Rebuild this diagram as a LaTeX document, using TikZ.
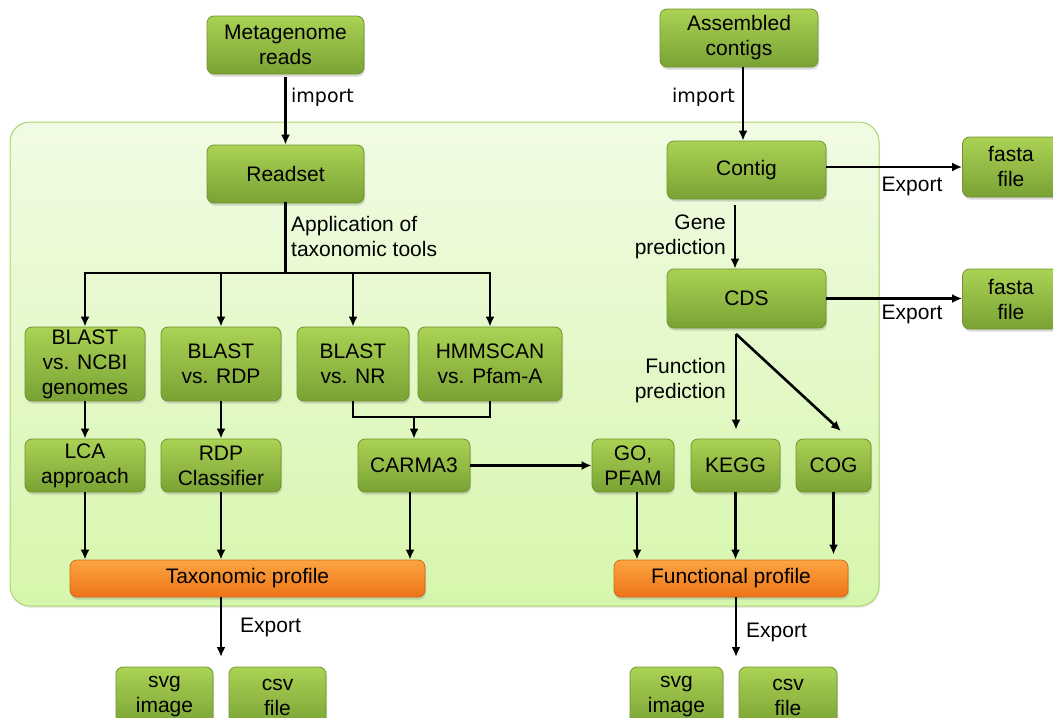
\documentclass[tikz,border=0pt]{standalone}
\usepackage{fontspec}
\setmainfont{Liberation Sans}
\newfontfamily\lblfont{DejaVu Sans}
\usetikzlibrary{arrows.meta,shadows,calc}

\definecolor{gtop}{RGB}{170,210,84}
\definecolor{gbot}{RGB}{122,162,52}
\definecolor{gline}{RGB}{112,148,48}
\definecolor{otop}{RGB}{252,164,64}
\definecolor{obot}{RGB}{236,116,24}
\definecolor{oline}{RGB}{205,105,30}
\definecolor{ptop}{RGB}{241,251,228}
\definecolor{pbot}{RGB}{214,246,172}
\definecolor{pline}{RGB}{172,212,112}

\tikzset{
 box/.style={draw=gline, line width=0.8pt, rounded corners=7pt, top color=gtop, bottom color=gbot,
   align=center, inner sep=0pt, font=\fontsize{21}{25}\selectfont,
   drop shadow={shadow xshift=1pt, shadow yshift=-2.5pt, opacity=0.3}},
 obox/.style={box, draw=oline, top color=otop, bottom color=obot},
 arr/.style={line width=2.6pt, -{Latex[length=10pt,width=9pt]}},
 ln/.style={line width=2.6pt, line cap=rect},
 lbl/.style={font=\fontsize{21}{25}\selectfont, inner sep=0pt},
}

\begin{document}
\begin{tikzpicture}[x=1pt,y=-1pt]
\useasboundingbox (0,0) rectangle (1053,718);
\clip (0,0) rectangle (1053,718);

% panel
\draw[draw=pline, line width=1pt, rounded corners=20pt, top color=ptop, bottom color=pbot,
  drop shadow={shadow xshift=1pt, shadow yshift=-2pt, opacity=0.15}] (10,122) rectangle (879,606);

% nodes
\node[box, minimum width=157pt, minimum height=58pt] (meta) at (285.5,45) {Metagenome\\reads};
\node[box, minimum width=157pt, minimum height=58pt] (readset) at (285.5,174) {Readset};
\node[box, minimum width=158pt, minimum height=58pt] (asm) at (739,38) {Assembled\\contigs};
\node[box, minimum width=159pt, minimum height=58pt] (contig) at (746.5,170) {Contig};
\node[box, minimum width=159pt, minimum height=59pt] (cds) at (746.5,298.5) {CDS};
\node[box, minimum width=97pt, minimum height=60pt] (fasta1) at (1011,167) {fasta\\file};
\node[box, minimum width=97pt, minimum height=60pt] (fasta2) at (1011,299) {fasta\\file};

\node[box, minimum width=120pt, minimum height=74pt] (ncbi) at (85,364) {BLAST\\vs. NCBI\\genomes};
\node[box, minimum width=120pt, minimum height=74pt] (rdp) at (221,364) {BLAST\\vs. RDP};
\node[box, minimum width=112pt, minimum height=74pt] (nr) at (353,364) {BLAST\\vs. NR};
\node[box, minimum width=144pt, minimum height=74pt] (hmm) at (490,364) {HMMSCAN\\vs. Pfam-A};

\node[box, minimum width=120pt, minimum height=53pt] (lca) at (85,465.5) {LCA\\approach};
\node[box, minimum width=120pt, minimum height=53pt] (rdpc) at (221,465.5) {RDP\\Classifier};
\node[box, minimum width=112pt, minimum height=53pt] (carma) at (414,465.5) {CARMA3};
\node[box, minimum width=82pt, minimum height=53pt] (gopfam) at (633,465.5) {GO,\\PFAM};
\node[box, minimum width=89pt, minimum height=53pt] (kegg) at (735.5,465.5) {KEGG};
\node[box, minimum width=75pt, minimum height=53pt] (cog) at (833.5,465.5) {COG};

\node[obox, minimum width=355pt, minimum height=37pt] (tax) at (247.5,578.5) {Taxonomic profile};
\node[obox, minimum width=234pt, minimum height=37pt] (func) at (731,578.5) {Functional profile};

\node[box, minimum width=97pt, minimum height=60pt] (svg1) at (164.5,697) {svg\\image};
\node[box, minimum width=97pt, minimum height=60pt] (csv1) at (277.5,697) {csv\\file};
\node[box, minimum width=93pt, minimum height=60pt] (svg2) at (676.5,697) {svg\\image};
\node[box, minimum width=98pt, minimum height=60pt] (csv2) at (788,697) {csv\\file};

% labels
\node[lbl, anchor=west] (imp1) at (291,97) {\lblfont\fontsize{19}{23}\selectfont import};
\node[lbl, anchor=east] (imp2) at (735,97) {\lblfont\fontsize{19}{23}\selectfont import};
\node[lbl, anchor=west, align=left] (appl) at (291,236) {Application of\\taxonomic tools};
\node[lbl, anchor=east, align=right] (gpred) at (726,237) {Gene\\prediction};
\node[lbl, anchor=east, align=right] (fpred) at (726,381) {Function\\prediction};
\node[lbl] (exp1) at (912,186) {Export};
\node[lbl] (exp2) at (912,314) {Export};
\node[lbl, anchor=west] (exp3) at (240,627) {Export};
\node[lbl, anchor=west] (exp4) at (746,632) {Export};

% coordinates
\coordinate (bus) at (285.5,273);
\coordinate (br) at (0,417);
\coordinate (ex1) at (221,657);
\coordinate (ex2) at (736,657);
\coordinate (a2) at (743,0);
\coordinate (e1) at (0,167);
\coordinate (g) at (735,0);
\coordinate (fp) at (736,334);
\coordinate (cogtip) at (841,431);

% connectors
\draw[arr, shorten <=3pt] (meta) -- (readset);
\draw[ln] (readset.south) -- (bus);
\draw[ln] (ncbi.north |- bus) -- (hmm.north |- bus);
\foreach \n in {ncbi,rdp,nr,hmm} \draw[arr] (\n.north |- bus) -- (\n.north);
\draw[arr] (ncbi) -- (lca);
\draw[arr] (rdp) -- (rdpc);
\draw[ln, line cap=butt, line join=miter] (nr.south) -- (nr.south |- br) -- (hmm.south |- br) -- (hmm.south);
\draw[arr] (carma.north |- br) -- (carma.north);
\draw[arr] (carma) -- (gopfam);
\draw[arr] (lca) -- (lca.south |- tax.north);
\draw[arr] (rdpc) -- (rdpc.south |- tax.north);
\draw[arr] ([xshift=-4pt]carma.south) -- ([xshift=-4pt]carma.south |- tax.north);
\draw[arr] (tax.south -| ex1) -- (ex1);

\draw[arr] (asm.south -| a2) -- (contig.north -| a2);
\draw[arr] (contig.east |- e1) -- (fasta1.west |- e1);
\draw[arr, shorten <=6pt] (contig.south -| g) -- (cds.north -| g);
\draw[arr] (cds.east) -- (cds.east -| fasta2.west);
\draw[arr, shorten >=9pt] (fp) -- (fp |- kegg.north);
\draw[arr] (fp) -- (cogtip);
\draw[arr] ([xshift=4pt]gopfam.south) -- ([xshift=4pt]gopfam.south |- func.north);
\draw[arr] (kegg) -- (kegg.south |- func.north);
\draw[arr, shorten >=5pt] (cog) -- (cog.south |- func.north);
\draw[arr] (func.south -| ex2) -- (ex2);
\end{tikzpicture}
\end{document}
